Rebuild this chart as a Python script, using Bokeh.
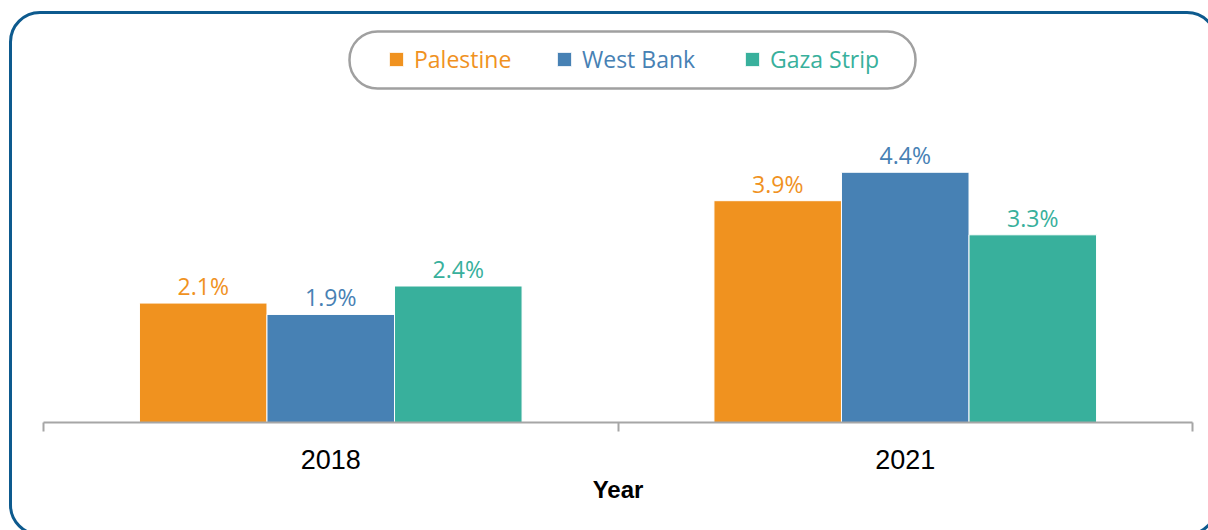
from bokeh.plotting import figure
from bokeh.models import (Range1d, FixedTicker, Legend, LegendItem, BoxAnnotation,
                          ColumnDataSource, InlineStyleSheet)
from bokeh.core.properties import value
from bokeh.embed import file_html
from bokeh.resources import INLINE

# ---- data ----
years = ["2018", "2021"]
series = ["Palestine", "West Bank", "Gaza Strip"]
palestine = [2.1, 3.9]
west_bank = [1.9, 4.4]
gaza_strip = [2.4, 3.3]
x_label = "Year"

colors = ["#F0921F", "#4781B4", "#38B09C"]

W, H = 1208, 530
p = figure(width=W, height=H, output_backend="svg", toolbar_location=None,
           x_range=Range1d(0, len(years)), y_range=Range1d(0, 7.42),
           y_axis_location=None,
           min_border_left=43, min_border_right=16, min_border_top=0, min_border_bottom=108,
           background_fill_color=None, border_fill_color=None, outline_line_color=None)
p.grid.visible = False

# outer rounded frame (page decoration)
p.stylesheets = [InlineStyleSheet(css="""
:host { position: relative; overflow: hidden; }
:host::after {
  content: ""; position: absolute; left: 8.5px; top: 10.5px;
  width: 1209px; height: 525px; box-sizing: border-box;
  border: 3px solid #0D5A8E; border-radius: 31px; pointer-events: none;
}
""")]

bar_w = 0.222
offsets = [-bar_w, 0, bar_w]
values_list = [palestine, west_bank, gaza_strip]
renderers = []
for name, vals, col, off in zip(series, values_list, colors, offsets):
    xs = [i + 0.5 + off for i in range(len(years))]
    src = ColumnDataSource(dict(x=xs, top=vals, label=[f"{v:.1f}%" for v in vals]))
    r = p.vbar(x="x", top="top", width=bar_w, source=src, fill_color=col,
               line_color="white", line_width=1)
    p.text(x="x", y="top", text="label", source=src, text_color=col,
           text_font=value("Open Sans"), text_font_size="23px", text_align="center",
           text_baseline="bottom", y_offset=-1)
    renderers.append(r)

# legend pill
pill = BoxAnnotation(left=349, right=915, top=31, bottom=88,
                     left_units="canvas", right_units="canvas", top_units="canvas", bottom_units="canvas",
                     fill_color=None, fill_alpha=0, line_color="#A0A0A0", line_alpha=1.0,
                     line_width=2.5, border_radius=28, level="overlay")
p.add_layout(pill)

leg_x = [344, 512, 700]
for name, r, col, lx in zip(series, renderers, colors, leg_x):
    leg = Legend(items=[LegendItem(label=name, renderers=[r])], location=(lx, 347),
                 orientation="horizontal", padding=0, margin=0, border_line_color=None,
                 background_fill_alpha=0, glyph_width=18, glyph_height=18, label_standoff=9,
                 label_text_color=col, label_text_font="Open Sans", label_text_font_size="23px")
    p.add_layout(leg, "center")

ax = p.xaxis[0]
ax.ticker = FixedTicker(ticks=[i + 0.5 for i in range(len(years))],
                        minor_ticks=list(range(len(years) + 1)))
ax.major_label_overrides = {i + 0.5: y for i, y in enumerate(years)}
ax.major_tick_in = 0
ax.major_tick_out = 0
ax.minor_tick_in = 0
ax.minor_tick_out = 9
ax.minor_tick_line_color = "#A6A6A6"
ax.minor_tick_line_width = 2
ax.axis_line_color = "#A6A6A6"
ax.axis_line_width = 2
ax.major_label_text_font = "Liberation Sans"
ax.major_label_text_font_size = "27px"
ax.major_label_text_color = "#000000"
ax.major_label_standoff = 18
ax.axis_label = x_label
ax.axis_label_text_font = "Liberation Sans"
ax.axis_label_text_font_style = "bold"
ax.axis_label_text_font_size = "24px"
ax.axis_label_text_color = "#000000"
ax.axis_label_standoff = 4

open("out.html", "w").write(file_html(p, INLINE))
